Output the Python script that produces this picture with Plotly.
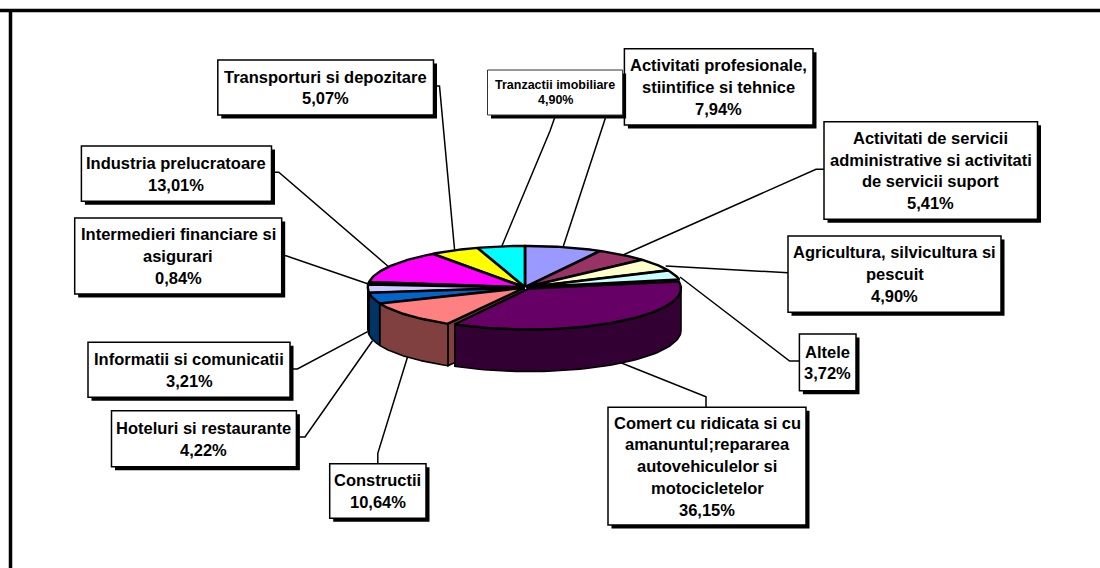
import numpy as np
import plotly.graph_objects as go

# ---- data ----
sectors = ["Activitati profesionale, stiintifice si tehnice",
           "Activitati de servicii administrative si activitati de servicii suport",
           "Agricultura, silvicultura si pescuit", "Altele",
           "Comert cu ridicata si cu amanuntul;repararea autovehiculelor si motocicletelor",
           "Constructii", "Hoteluri si restaurante", "Informatii si comunicatii",
           "Intermedieri financiare si asigurari", "Industria prelucratoare",
           "Transporturi si depozitare", "Tranzactii imobiliare"]
shares = [7.94, 5.41, 4.90, 3.72, 36.15, 10.64, 4.22, 3.21, 0.84, 13.01, 5.07, 4.90]
share_labels = ["7,94%", "5,41%", "4,90%", "3,72%", "36,15%", "10,64%", "4,22%", "3,21%",
                "0,84%", "13,01%", "5,07%", "4,90%"]
label_lines = [["Activitati profesionale,", "stiintifice si tehnice"],
               ["Activitati de servicii", "administrative si activitati", "de servicii suport"],
               ["Agricultura, silvicultura si", "pescuit"], ["Altele"],
               ["Comert cu ridicata si cu", "amanuntul;repararea", "autovehiculelor si", "motocicletelor"],
               ["Constructii"], ["Hoteluri si restaurante"], ["Informatii si comunicatii"],
               ["Intermedieri financiare si", "asigurari"], ["Industria prelucratoare"],
               ["Transporturi si depozitare"], ["Tranzactii imobiliare"]]

# ---- styling and placement ----
top_colors = ["#9999FF", "#993366", "#FFFFCC", "#CCFFFF", "#660066", "#FF8080",
              "#0066CC", "#CCCCFF", "#000080", "#FF00FF", "#FFFF00", "#00FFFF"]
side_colors = ["#4D4D80", "#4D1A33", "#808066", "#668080", "#330033", "#804040",
               "#003366", "#003366", "#000040", "#800080", "#808000", "#008080"]
CX, CY, RX, RY, DEPTH = 525.0, 287.5, 156.0, 41.0, 42.0
# per-slice nudge in pixels (purple slice pulled out slightly)
nudges = {4: (4.0, 1.0)}
boxes = [(624.4, 48.7, 813, 125), (824, 121.7, 1037.5, 219.3), (788, 236, 1001, 312.3),
         (799.4, 334, 856, 390.7), (608, 407.3, 806, 525), (329.7, 463.7, 426, 518.3),
         (111.5, 410.7, 296.4, 466.7), (88, 342.3, 290, 397.3), (74.7, 218, 281.7, 294),
         (81.4, 146, 271.5, 201.3), (217.8, 60, 433.5, 115), (487.5, 70, 622.6, 115)]
leaders = [[(605.4, 118), (563, 247.3)],
           [(824, 169.3), (816, 169.3), (623, 255)],
           [(788, 272.7), (665.7, 266)],
           [(799.4, 361), (789.6, 361), (680, 277)],
           [(706, 407.3), (706, 396.7), (618.4, 361.7)],
           [(377.8, 463.7), (377.8, 453.3), (407.6, 356.7)],
           [(296.4, 437), (305, 437), (372.5, 340.7)],
           [(290, 369), (297.4, 369), (367.6, 331.7)],
           [(281.7, 255.7), (286, 255.7), (368.3, 284)],
           [(271.5, 172.3), (278.8, 172.3), (388.6, 266.7)],
           [(433.5, 86), (439.5, 86), (454.6, 250)],
           [(555, 116.7), (550, 131), (501.6, 246.7)]]
FONT = "Liberation Sans"
LINE_H = 21.7

fig = go.Figure()


def add_poly(x, y, fill, lw=1.6):
    fig.add_trace(go.Scatter(x=x, y=y, mode="lines", fill="toself", fillcolor=fill,
                             line=dict(color="#000000", width=lw), hoverinfo="skip",
                             showlegend=False))


# leaders
for pts in leaders:
    fig.add_trace(go.Scatter(x=[p[0] for p in pts], y=[p[1] for p in pts], mode="lines",
                             line=dict(color="#000000", width=1.5), hoverinfo="skip",
                             showlegend=False))

# slice angles from the values (clockwise from 12 o'clock)
total = sum(shares)
edges = np.concatenate([[0.0], np.cumsum(shares)]) / total * 360.0


def pt(deg, dx=0.0, dy=0.0, drop=0.0, rx=RX, ry=RY):
    r = np.radians(deg)
    return CX + dx + rx * np.sin(r), CY + dy - ry * np.cos(r) + drop


def offsets(i):
    if i in nudges:
        return nudges[i]
    mid = np.radians((edges[i] + edges[i + 1]) / 2)
    return 1.2 * np.sin(mid), -0.6 * np.cos(mid)


PURPLE_RX = 152.0
# sides of the front slices
order = [7, 6, 5, 4]
for i in order:
    a, b = max(edges[i], 90.0), min(edges[i + 1], 270.0)
    dx, dy = offsets(i)
    rx = PURPLE_RX if i == 4 else RX
    if i == 5:
        # cut face exposed beside the pulled-out slice
        x1, y1 = pt(edges[i], dx, dy)
        x2, y2 = pt(0, dx, dy, rx=0, ry=0)
        add_poly([x1, x2, x2, x1, x1], [y1, y2, y2 + DEPTH, y1 + DEPTH, y1], side_colors[i])
    t = np.linspace(a, b, 60)
    xs, ys = pt(t, dx, dy, rx=rx)
    xb, yb = pt(t[::-1], dx, dy, DEPTH, rx=rx)
    add_poly(np.r_[xs, xb, xs[0]], np.r_[ys, yb, ys[0]], side_colors[i])

# top faces, back ones first
draw = [11, 0, 10, 1, 9, 2, 8, 3, 7, 6, 5, 4]
for i in draw:
    dx, dy = offsets(i)
    rx = PURPLE_RX if i == 4 else RX
    t = np.linspace(edges[i], edges[i + 1], max(int(edges[i + 1] - edges[i]), 4))
    xs, ys = pt(t, dx, dy, rx=rx)
    tipx, tipy = CX + dx, CY + dy
    add_poly(np.r_[tipx, xs, tipx], np.r_[tipy, ys, tipy], top_colors[i], lw=2.4)

# frame + boxes
shapes = [dict(type="line", x0=0, x1=1100, y0=10.5, y1=10.5, line=dict(color="#000", width=3.5)),
          dict(type="line", x0=10.5, x1=10.5, y0=9, y1=568, line=dict(color="#000", width=3.5))]
annotations = []
for i, (x0, y0, x1, y1) in enumerate(boxes):
    small = i == 11
    shapes.append(dict(type="rect", x0=x0 + 3.5, x1=x1 + 3.5, y0=y0 + 3.5, y1=y1 + 3.5,
                       fillcolor="#000", line=dict(width=0)))
    shapes.append(dict(type="rect", x0=x0, x1=x1, y0=y0, y1=y1, fillcolor="#fff",
                       line=dict(color="#333333" if small else "#000", width=1 if small else 1.5)))
    lines = label_lines[i] + [share_labels[i]]
    h = 15.5 if small else LINE_H
    cy = (y0 + y1) / 2 - h * (len(lines) - 1) / 2
    for k, s in enumerate(lines):
        annotations.append(dict(x=(x0 + x1) / 2, y=cy + k * h, xref="x", yref="y", text=f"<b>{s}</b>",
                                showarrow=False, xanchor="center", yanchor="middle",
                                font=dict(family=FONT, size=12.5 if small else 16.5, color="#000")))

fig.update_layout(width=1100, height=568, margin=dict(l=0, r=0, t=0, b=0),
                  paper_bgcolor="#fff", plot_bgcolor="#fff", showlegend=False,
                  xaxis=dict(range=[0, 1100], visible=False, fixedrange=True),
                  yaxis=dict(range=[568, 0], visible=False, fixedrange=True),
                  shapes=shapes, annotations=annotations)
fig.write_html("out.html", config=dict(displayModeBar=False),
               post_script="document.body.style.margin='0';")
